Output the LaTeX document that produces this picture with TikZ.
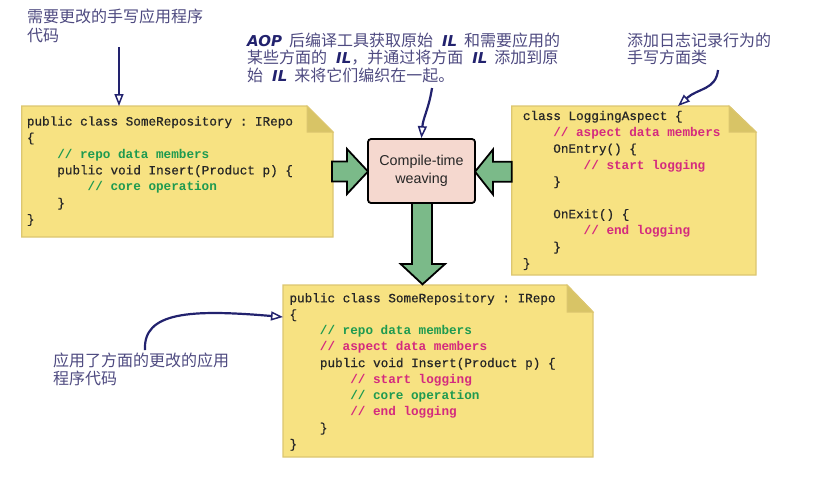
\documentclass[tikz,border=0pt]{standalone}
\usepackage{fontspec}
\setmainfont{Noto Sans CJK SC}
\newfontfamily\codefont{Liberation Mono}[FakeBold=0.6]
\newfontfamily\codebfont{Liberation Mono}
\newfontfamily\lsans{Liberation Sans}
\newfontfamily\ilfont{DejaVu Sans}
\usetikzlibrary{arrows.meta}
\definecolor{noteyellow}{HTML}{F7E282}
\definecolor{notefold}{HTML}{D8C466}
\definecolor{noteedge}{HTML}{DCC670}
\definecolor{cgreen}{HTML}{1E9A50}
\definecolor{cpink}{HTML}{D42A7E}
\definecolor{codetext}{HTML}{262626}
\definecolor{navy}{HTML}{22226E}
\definecolor{annot}{HTML}{4E4A80}
\definecolor{weavefill}{HTML}{F5D8CF}
\definecolor{arrowgreen}{HTML}{7BBA89}
\newcommand\ind{\hspace*{30.4pt}}
\newcommand\cg[1]{\textcolor{cgreen}{\codebfont\bfseries #1}}
\newcommand\cp[1]{\textcolor{cpink}{\codebfont\bfseries #1}}
\newcommand\il[1]{{\ilfont\fontsize{15}{18}\selectfont\bfseries\itshape\textcolor{navy}{#1}}}
\newcommand\gapa{\hspace*{9pt}}
\newcommand\gapb{\hspace*{7pt}}
\frenchspacing
\tikzset{
  notebody/.style={fill=noteyellow, draw=noteedge, line width=1.3pt, line join=miter},
  notefoldst/.style={fill=notefold, draw=noteedge, line width=1pt},
  codeln/.style={anchor=base west, inner sep=0pt, text=codetext, font=\codefont\fontsize{12.67}{15}\selectfont\frenchspacing},
  annline/.style={anchor=base west, inner sep=0pt, text=annot, font=\fontsize{16}{18}\selectfont},
  blockarrow/.style={fill=arrowgreen, draw=black, line width=1.8pt, line join=miter},
  annarrow/.style={draw=navy, line width=2.2pt, -{Triangle[open, length=12pt, width=9pt, line width=1.5pt]}},
}
\begin{document}
\begin{tikzpicture}[x=1pt,y=-1pt]
\useasboundingbox (0,0) rectangle (818,477);

% ---------- note boxes ----------
\draw[notebody] (21.7,106) -- (307,106) -- (333,132) -- (333,237) -- (21.7,237) -- cycle;
\draw[notefoldst] (307,106) -- (307,132) -- (333,132) -- cycle;
\coordinate (srcbox-top) at (119,106);
\draw[notebody] (511.7,106) -- (729,106) -- (756,132) -- (756,275) -- (511.7,275) -- cycle;
\draw[notefoldst] (729,106) -- (729,132) -- (756,132) -- cycle;
\coordinate (aspbox-top) at (678,106);
\draw[notebody] (283,285) -- (567,285) -- (593,312) -- (593,457) -- (283,457) -- cycle;
\draw[notefoldst] (567,285) -- (567,312) -- (593,312) -- cycle;
\coordinate (outbox-left) at (283,317);

% ---------- code ----------
\foreach \t [count=\i] in {
  {public class SomeRepository : IRepo},
  {\{},
  {\ind\cg{// repo data members}},
  {\ind public void Insert(Product p) \{},
  {\ind\ind\cg{// core operation}},
  {\ind\}},
  {\}}}
  \node[codeln] (src-\i) at (26.7,{125.5+16.3*(\i-1)}) {\t};

\foreach \t [count=\i] in {
  {class LoggingAspect \{},
  {\ind\cp{// aspect data members}},
  {\ind OnEntry() \{},
  {\ind\ind\cp{// start logging}},
  {\ind\}},
  {},
  {\ind OnExit() \{},
  {\ind\ind\cp{// end logging}},
  {\ind\}},
  {\}}}
  \node[codeln] (asp-\i) at (522.7,{120+16.37*(\i-1)}) {\t};

\foreach \t [count=\i] in {
  {public class SomeRepository : IRepo},
  {\{},
  {\ind\cg{// repo data members}},
  {\ind\cp{// aspect data members}},
  {\ind public void Insert(Product p) \{},
  {\ind\ind\cp{// start logging}},
  {\ind\ind\cg{// core operation}},
  {\ind\ind\cp{// end logging}},
  {\ind\}},
  {\}}}
  \node[codeln] (out-\i) at (289.3,{302.3+16.2*(\i-1)}) {\t};

% ---------- block arrows ----------
\draw[blockarrow] (332,161.5) -- (347,161.5) -- (347,149) -- (368,171.5) -- (347,194) -- (347,181.5) -- (332,181.5) -- cycle;
\draw[blockarrow] (511.7,161.7) -- (493,161.7) -- (493,149.5) -- (475,171.7) -- (493,194.5) -- (493,181.7) -- (511.7,181.7) -- cycle;
\draw[blockarrow] (412,203) -- (412,264) -- (400.7,264) -- (422.5,284.3) -- (445,264) -- (432,264) -- (432,203) -- cycle;

% ---------- weaving box ----------
\node[draw=black, line width=1.8pt, fill=weavefill, rounded corners=3pt,
      minimum width=107pt, minimum height=64pt, inner sep=0pt, align=center,
      text=codetext, font=\lsans\fontsize{14.3}{17.5}\selectfont]
      (weave) at (421.5,171) {Compile-time\\weaving};

% ---------- annotations ----------
\node[annline] (t1a) at (27,22.5) {需要更改的手写应用程序};
\node[annline] (t1b) at (27,41) {代码};

\node[annline] (t2a) at (247,46) {\il{AOP}\gapb 后编译工具获取原始\gapa\il{IL}\gapb 和需要应用的};
\node[annline] (t2b) at (247,63.5) {某些方面的\gapa\il{IL}，并通过将方面\gapa\il{IL}\gapb 添加到原};
\node[annline] (t2c) at (247,81) {始\gapa\il{IL}\gapb 来将它们编织在一起。};

\node[annline] (t3a) at (627,46) {添加日志记录行为的};
\node[annline] (t3b) at (627,63) {手写方面类};

\node[annline] (t4a) at (53,366.5) {应用了方面的更改的应用};
\node[annline] (t4b) at (53,384.5) {程序代码};

% ---------- annotation arrows ----------
\coordinate (a1s) at (119,47);
\draw[annarrow] (a1s) -- (srcbox-top);
\coordinate (a2s) at (432,88);
\draw[annarrow] (a2s) .. controls (429,108) and (423,118) .. (weave.north);
\coordinate (a3s) at (718,70);
\draw[annarrow] (a3s) .. controls (716,90) and (698,88) .. (aspbox-top);
\coordinate (a4s) at (145,350);
\draw[annarrow] (a4s) .. controls (143,312) and (190,309) .. (outbox-left);
\end{tikzpicture}
\end{document}
